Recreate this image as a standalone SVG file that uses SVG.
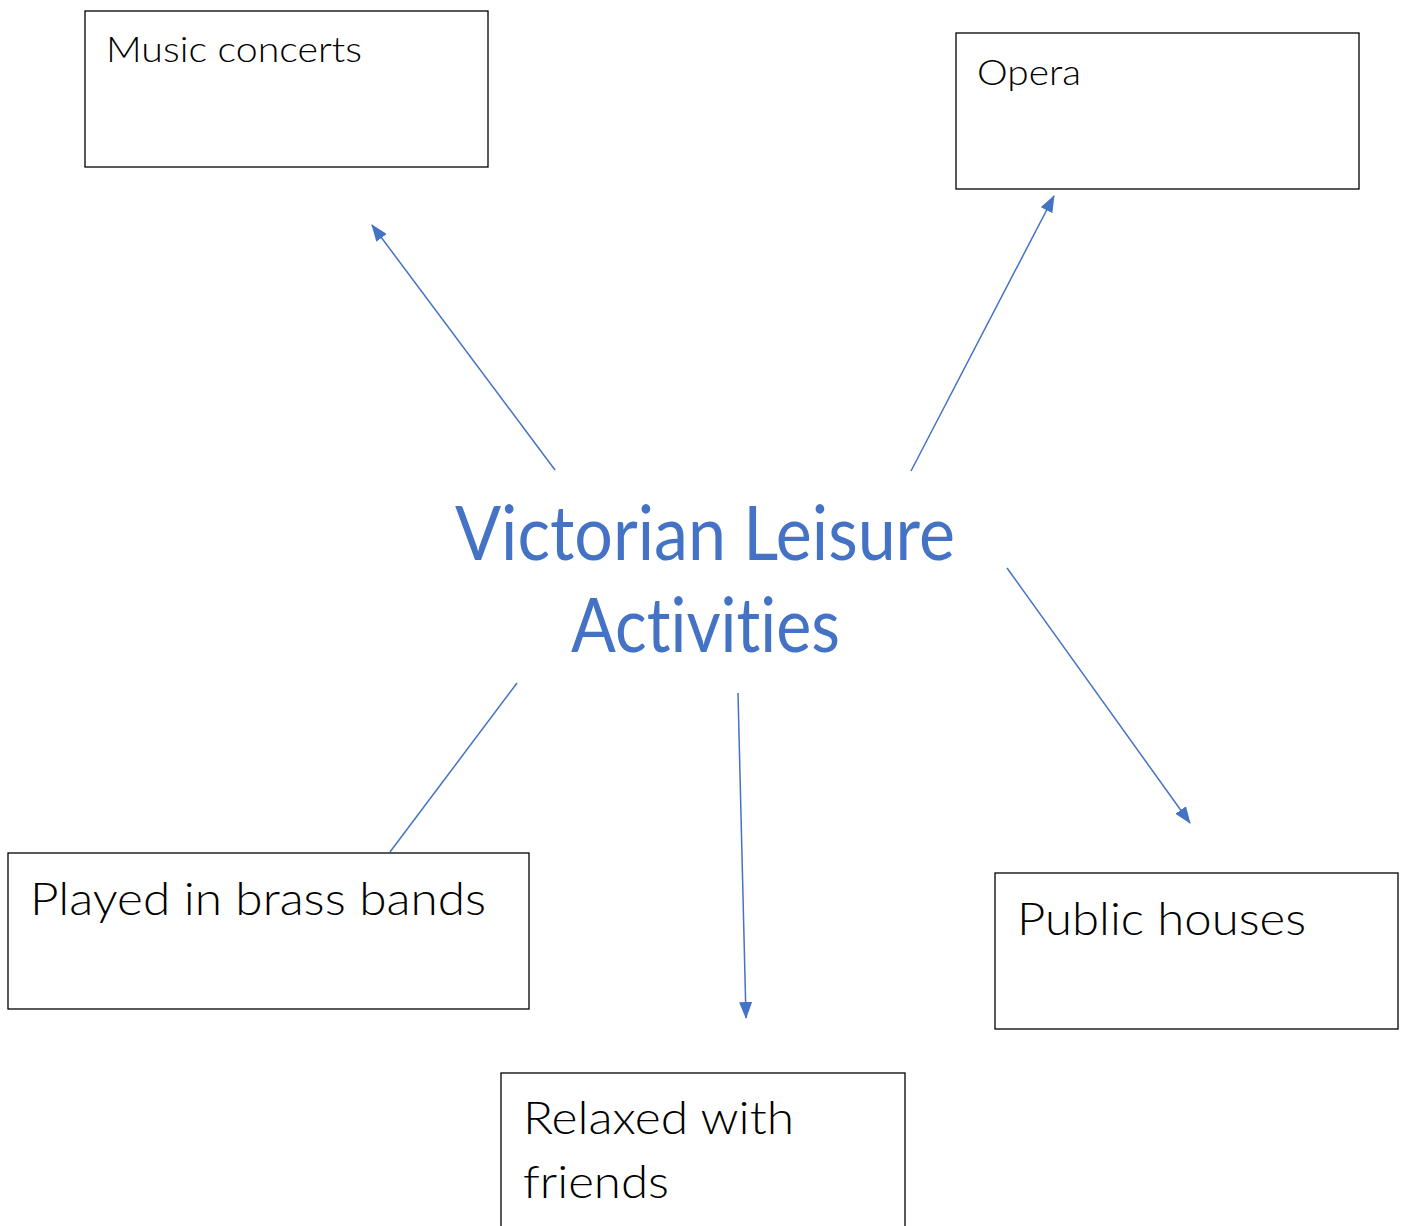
<svg xmlns="http://www.w3.org/2000/svg" width="1404" height="1226" viewBox="0 0 1404 1226">
<style>
.box{fill:#fff;stroke:#000;stroke-width:1.3}
.t{font-family:Lato,"Open Sans","Liberation Sans",sans-serif;fill:#000;font-weight:300;font-variant-ligatures:none}
.title{font-family:Lato,"Open Sans","Liberation Sans",sans-serif;fill:#4472C4;font-size:76px;font-variant-ligatures:none}
.c{stroke:#4472C4;stroke-width:1.5;fill:none}
</style>
<defs>
<marker id="ahb" viewBox="0 0 17 13" refX="16" refY="6.5" markerWidth="17" markerHeight="13" markerUnits="userSpaceOnUse" orient="auto">
<path d="M0,0 L17,6.5 L0,13 z" fill="#4472C4"/>
</marker>
</defs>
<rect width="1404" height="1226" fill="#fff"/>
<g id="connectors">
<line class="c" x1="555" y1="470" x2="372" y2="225" marker-end="url(#ahb)"/>
<line class="c" x1="911" y1="471" x2="1054" y2="196" marker-end="url(#ahb)"/>
<line class="c" x1="1007" y1="568" x2="1190" y2="823" marker-end="url(#ahb)"/>
<line class="c" x1="738" y1="693" x2="746" y2="1018" marker-end="url(#ahb)"/>
<line class="c" x1="517" y1="683" x2="390" y2="852"/>
</g>
<g id="center">
<text class="title" x="455" y="560" textLength="500" lengthAdjust="spacingAndGlyphs">Victorian Leisure</text>
<text class="title" x="571" y="652" textLength="269" lengthAdjust="spacingAndGlyphs">Activities</text>
</g>
<g id="music">
<rect class="box" x="85" y="11" width="403" height="156"/>
<text class="t" x="106" y="62" font-size="35" textLength="256" lengthAdjust="spacingAndGlyphs">Music concerts</text>
</g>
<g id="opera">
<rect class="box" x="956" y="33" width="403" height="156"/>
<text class="t" x="977" y="85" font-size="35" textLength="104" lengthAdjust="spacingAndGlyphs">Opera</text>
</g>
<g id="brass">
<rect class="box" x="8" y="853" width="521" height="156"/>
<text class="t" x="30" y="915" font-size="46" textLength="456" lengthAdjust="spacingAndGlyphs">Played in brass bands</text>
</g>
<g id="pub">
<rect class="box" x="995" y="873" width="403" height="156"/>
<text class="t" x="1017" y="935" font-size="46" textLength="289" lengthAdjust="spacingAndGlyphs">Public houses</text>
</g>
<g id="relaxed">
<rect class="box" x="501" y="1073" width="404" height="170"/>
<text class="t" x="523" y="1134" font-size="46" textLength="271" lengthAdjust="spacingAndGlyphs">Relaxed with</text>
<text class="t" x="523" y="1198" font-size="46" textLength="146" lengthAdjust="spacingAndGlyphs">friends</text>
</g>
</svg>
